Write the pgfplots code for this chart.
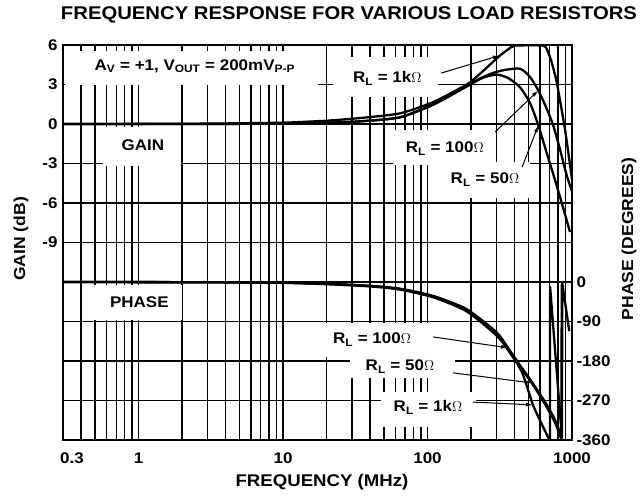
\documentclass[border=0pt]{standalone}
\usepackage{pgfplots}
\pgfplotsset{compat=1.18}
\usepackage{fontspec}
\setmainfont{Liberation Sans}[FakeStretch=1.1]
\usetikzlibrary{arrows.meta}
\newcommand\lab{\fontsize{15.5}{18}\selectfont\bfseries}
\newcommand\RL[1]{R\textsubscript{L} = #1}
\begin{document}
\begin{tikzpicture}
\path[use as bounding box] (-63bp,-57bp) rectangle (577bp,440bp);
\begin{axis}[
  at={(0,0)}, anchor=south west,
  scale only axis, width=509bp, height=395bp,
  xmode=log, xmin=0.3, xmax=1000,
  ymin=-24, ymax=6,
  xtick={0.3,1,10,100,1000},
  xticklabels={\hspace*{18bp}0.3,1,10,100,1000},
  minor xtick={0.4,0.5,0.6,0.7,0.8,0.9,2,3,4,5,6,7,8,9,20,30,40,50,60,70,80,90,200,300,400,500,600,700,800,900},
  ytick={-9,-6,-3,0,3,6},
  yticklabels={-9,-6,-3,0,3,6},
  minor ytick={-21,-18,-15,-12},
  grid=both,
  grid style={black, line width=1.3bp},
  minor grid style={black, line width=1.3bp},
  major grid style={black, line width=1.3bp},
  axis line style={line width=1.7bp},
  tick style={black, line width=1.2bp},
  major tick length=4bp, minor tick length=4bp,
  tick align=inside,
  ticklabel style={font=\lab},
  yticklabel style={xshift=-2bp},
  xticklabel style={yshift=-9bp},
  every axis plot/.append style={black, line width=2.3bp, line join=round},
]
% white label boxes
\fill[white] (rel axis cs:0.004,0.899) rectangle (rel axis cs:0.501,0.984);
\fill[white] (rel axis cs:0.078,0.694) rectangle (rel axis cs:0.232,0.792);
\fill[white] (rel axis cs:0.061,0.304) rectangle (rel axis cs:0.234,0.392);
\fill[white] (rel axis cs:0.530,0.868) rectangle (rel axis cs:0.737,0.970);
\fill[white] (rel axis cs:0.648,0.696) rectangle (rel axis cs:0.843,0.785);
\fill[white] (rel axis cs:0.741,0.613) rectangle (rel axis cs:0.917,0.704);
\fill[white] (rel axis cs:0.491,0.210) rectangle (rel axis cs:0.721,0.296);
\fill[white] (rel axis cs:0.564,0.157) rectangle (rel axis cs:0.770,0.215);
\fill[white] (rel axis cs:0.625,0.033) rectangle (rel axis cs:0.811,0.122);
% gain, R_L = 1k
\addplot[smooth, tension=0.35] coordinates {(0.3,0)(1,0.01)(3,0.03)(10,0.1)(20,0.25)(34,0.45)(64,0.8)(109,1.65)(187,3.0)(230,3.8)(270,4.5)(317,5.2)(360,5.65)(403,5.95)(633,5.95)(680,5.5)(723,4.7)(780,3.3)(826,1.8)(900,-0.6)(1000,-4.2)};
% gain, R_L = 100
\addplot[smooth, tension=0.4] coordinates {(0.3,0)(3,0)(10,0.04)(20,0.1)(34,0.2)(64,0.5)(109,1.5)(187,2.9)(230,3.45)(280,3.85)(340,4.1)(437,4.2)(510,3.6)(585,2.55)(660,1.3)(741,-0.1)(820,-1.8)(919,-3.9)(1000,-5.1)};
% gain, R_L = 50
\addplot[smooth, tension=0.4] coordinates {(0.3,0)(3,0)(10,0.04)(20,0.1)(34,0.2)(64,0.5)(109,1.45)(187,2.85)(240,3.5)(301,3.75)(360,3.5)(436,2.8)(512,1.6)(585,-0.1)(660,-2)(741,-3.8)(850,-6)(968,-8.2)};
% labels
\node[font=\lab] at (rel axis cs:0.259,0.946) {A\textsubscript{V} = +1, V\textsubscript{OUT} = 200mV\textsubscript{P-P}};
\node[font=\lab] at (rel axis cs:0.157,0.747) {GAIN};
\node[font=\lab] at (rel axis cs:0.150,0.350) {PHASE};
\node[font=\lab] at (rel axis cs:0.637,0.915) {\RL{1k$\Omega$}};
\node[font=\lab] at (rel axis cs:0.750,0.738) {\RL{100$\Omega$}};
\node[font=\lab] at (rel axis cs:0.829,0.659) {\RL{50$\Omega$}};
\node[font=\lab] at (rel axis cs:0.607,0.254) {\RL{100$\Omega$}};
\node[font=\lab] at (rel axis cs:0.662,0.186) {\RL{50$\Omega$}};
\node[font=\lab] at (rel axis cs:0.717,0.082) {\RL{1k$\Omega$}};
\draw[-{Latex[length=7bp,width=4bp]}, line width=1bp] (rel axis cs:0.743,0.929) -- (axis cs:317,5.2);
\draw[-{Latex[length=7bp,width=4bp]}, line width=1bp] (rel axis cs:0.849,0.780) -- (axis cs:585,2.55);
\draw[-{Latex[length=7bp,width=4bp]}, line width=1bp] (rel axis cs:0.902,0.691) -- (axis cs:585,-0.1);
\end{axis}
\begin{axis}[
  at={(0,0)}, anchor=south west,
  scale only axis, width=509bp, height=395bp,
  xmode=log, xmin=0.3, xmax=1000,
  ymin=-360, ymax=540,
  hide x axis,
  axis y line*=right,
  y axis line style={draw=none},
  ytick={-360,-270,-180,-90,0},
  yticklabels={-360,-270,-180,-90,0},
  major tick length=0pt,
  ticklabel style={font=\lab},
  yticklabel style={xshift=1bp},
  every axis plot/.append style={black, line width=2.3bp, line join=round},
]
% phase, R_L = 100
\addplot[smooth, tension=0.4] coordinates {(0.3,0)(3,-0.5)(10,-1.5)(20,-4)(40,-9)(64,-15)(110,-32)(187,-62)(301,-115)(361,-150)(437,-190)(529,-228)(650,-273)(757,-312)(852,-355)};
\addplot[sharp plot] coordinates {(852,-355)(856,-2)(957,-112)};
% phase, R_L = 50
\addplot[smooth, tension=0.4] coordinates {(0.3,0)(3,-0.5)(10,-1.5)(20,-4)(40,-9)(64,-16)(110,-33)(187,-64)(301,-118)(361,-153)(437,-193)(529,-231)(650,-278)(757,-318)(845,-358)};
\addplot[sharp plot] coordinates {(845,-358)(849,-6)(880,-40)};
% phase, R_L = 1k
\addplot[smooth, tension=0.4] coordinates {(0.3,0)(3,-0.6)(10,-2)(20,-5)(40,-10)(64,-17)(110,-35)(187,-67)(301,-122)(361,-155)(450,-205)(537,-280)(620,-325)(703,-362)};
\addplot[sharp plot] coordinates {(703,-362)(706,-12)(850,-352)};
\draw[-{Latex[length=7bp,width=4bp]}, line width=1bp] (rel axis cs:0.727,0.261) -- (axis cs:361,-150);
\draw[-{Latex[length=7bp,width=4bp]}, line width=1bp] (rel axis cs:0.766,0.170) -- (axis cs:529,-230);
\draw[-{Latex[length=7bp,width=4bp]}, line width=1bp] (rel axis cs:0.805,0.096) -- (axis cs:537,-280);
\end{axis}
\node[font=\fontsize{18.5}{21}\selectfont\bfseries] at (286bp,425bp) {FREQUENCY RESPONSE FOR VARIOUS LOAD RESISTORS};
\node[font=\fontsize{16}{18}\selectfont\bfseries, rotate=90] at (-42bp,201bp) {GAIN (dB)};
\node[font=\fontsize{16}{18}\selectfont\bfseries, rotate=90] at (566bp,201bp) {PHASE (DEGREES)};
\node[font=\fontsize{17}{19}\selectfont\bfseries] at (259bp,-42bp) {FREQUENCY (MHz)};
\end{tikzpicture}
\end{document}
